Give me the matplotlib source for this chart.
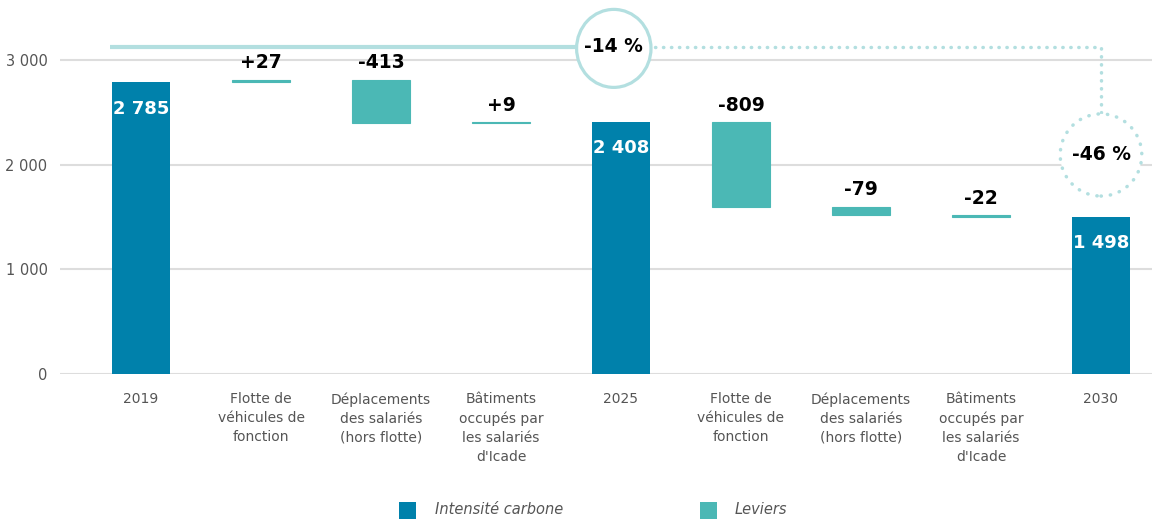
import matplotlib
matplotlib.use("Agg")
import matplotlib.pyplot as plt
from matplotlib.patches import Ellipse, Rectangle
import numpy as np

plt.rcParams['font.family'] = ['DejaVu Sans']

# ---- data ----
categories = ['2019', 'Flotte de\nvéhicules de\nfonction', 'Déplacements\ndes salariés\n(hors flotte)',
              "Bâtiments\noccupés par\nles salariés\nd'Icade", '2025',
              'Flotte de\nvéhicules de\nfonction', 'Déplacements\ndes salariés\n(hors flotte)',
              "Bâtiments\noccupés par\nles salariés\nd'Icade", '2030']
kinds = ['total', 'delta', 'delta', 'delta', 'total', 'delta', 'delta', 'delta', 'total']
values = [2785, 27, -413, 9, 2408, -809, -79, -22, 1498]
value_labels = ['2 785', '+27', '-413', '+9', '2 408', '-809', '-79', '-22', '1 498']
yticks = [0, 1000, 2000, 3000]
ytick_labels = ['0', '1 000', '2 000', '3 000']
pct_2025 = '-14 %'
pct_2030 = '-46 %'
legend_labels = ['Intensité carbone', 'Leviers']

DARK = '#0081AB'
TEAL = '#4BB8B5'
LIGHT = '#B3DFE0'
GREY = '#555555'

fig = plt.figure(figsize=(11.52, 5.22), dpi=100)
ax = fig.add_axes([60/1152, 1 - 374/522, 1092/1152, 345.5/522])
ax.set_xlim(-0.675, 8.425)
ax.set_ylim(0, 3300)

x = np.arange(len(categories))
running = 0
w = 0.48
for i, (k, v) in enumerate(zip(kinds, values)):
    if k == 'total':
        ax.bar(x[i], v, width=w, color=DARK, zorder=3)
        ax.text(x[i], v - 250, value_labels[i], ha='center', va='center', color='white',
                fontsize=13, fontweight='bold', zorder=4)
        running = v
    else:
        bottom = running + min(v, 0)
        top = running + max(v, 0)
        ax.bar(x[i], top - bottom, bottom=bottom, width=w, color=TEAL, edgecolor=TEAL,
               linewidth=0.8, zorder=3)
        ax.text(x[i], top + 70, value_labels[i], ha='center', va='bottom', color='black',
                fontsize=13.5, fontweight='bold', zorder=4)
        running += v

# axes style
for s in ax.spines.values():
    s.set_visible(False)
ax.set_yticks(yticks)
ax.set_yticklabels(ytick_labels, color=GREY, fontsize=10.5)
ax.tick_params(axis='y', length=0, pad=9)
ax.tick_params(axis='x', length=0, pad=13)
ax.set_xticks(x)
ax.set_xticklabels(categories, color=GREY, fontsize=10, linespacing=1.47, va='top')
for yv in yticks:
    ax.axhline(yv, color='#DDDDDD', linewidth=1.5, zorder=1)

# connector annotations
y_line = 3125
c1x, c1w, c1h = 3.94, 0.62, 745
ax.plot([-0.26, c1x - c1w/2], [y_line, y_line], color=LIGHT, linewidth=3, solid_capstyle='butt',
        clip_on=False, zorder=2)
ax.add_patch(Ellipse((c1x, y_line - 15), c1w, c1h, facecolor='white', edgecolor=LIGHT, linewidth=2.3,
                     clip_on=False, zorder=5))
ax.text(c1x, y_line, pct_2025, ha='center', va='center', fontsize=13.5, fontweight='bold',
        color='black', zorder=6, clip_on=False)

c2x, c2y, c2w, c2h = 8.0, 2092, 0.68, 785
ax.plot([c1x + c1w/2 + 0.03, c2x, c2x], [y_line, y_line, c2y + c2h/2], color=LIGHT, linewidth=2.5,
        linestyle=(0, (0.1, 2.2)), dash_capstyle='round', clip_on=False, zorder=2)
ax.add_patch(Ellipse((c2x, c2y), c2w, c2h, facecolor='white', edgecolor=LIGHT, linewidth=2.5,
                     linestyle=(0, (0.1, 2.6)), capstyle='round', clip_on=False, zorder=5))
ax.text(c2x, c2y, pct_2030, ha='center', va='center', fontsize=13.5, fontweight='bold',
        color='black', zorder=6)

# legend
for (lx, tx), lab, col in zip([(399, 435), (700, 735)], legend_labels, [DARK, TEAL]):
    fig.add_artist(Rectangle((lx/1152, 1 - 519/522), 17/1152, 17/522, transform=fig.transFigure,
                             facecolor=col, edgecolor='none'))
    fig.text(tx/1152, 1 - 510/522, lab, ha='left', va='center', fontsize=10.5, style='italic',
             color=GREY)

fig.savefig('out.png', dpi=100)
